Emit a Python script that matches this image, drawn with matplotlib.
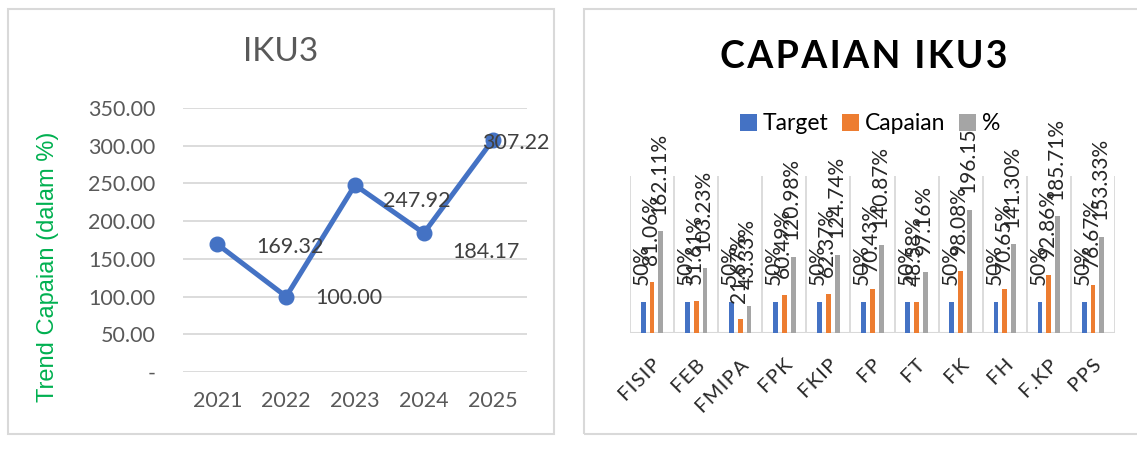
import matplotlib.pyplot as plt
import matplotlib.transforms as mtransforms
from matplotlib.patches import Rectangle
import numpy as np

plt.rcParams['font.family'] = ['Lato', 'DejaVu Sans']

# left chart data
tahun = ['2021', '2022', '2023', '2024', '2025']
trend = [169.32, 100.00, 247.92, 184.17, 307.22]

# right chart data
fakultas = ['FISIP', 'FEB', 'FMIPA', 'FPK', 'FKIP', 'FP', 'FT', 'FK', 'FH', 'F.KP', 'PPS']
target = [50, 50, 50, 50, 50, 50, 50, 50, 50, 50, 50]
capaian = [81.06, 51.61, 21.67, 60.49, 62.37, 70.43, 48.58, 98.08, 70.65, 92.86, 76.67]
persen = [162.11, 103.23, 43.33, 120.98, 124.74, 140.87, 97.16, 196.15, 141.30, 185.71, 153.33]

W, H = 1137, 468
fig = plt.figure(figsize=(W / 100, H / 100), dpi=100)

def box(x0, y0, x1, y1):
    # pixel coords (top-left origin) -> figure fraction
    return [x0 / W, 1 - y1 / H, (x1 - x0) / W, (y1 - y0) / H]

# panel borders
for (x0, y0, x1, y1) in [(8, 9, 554, 434), (584, 9, 1145, 434)]:
    fig.patches.append(Rectangle((x0 / W, 1 - y1 / H), (x1 - x0) / W, (y1 - y0) / H,
                                 transform=fig.transFigure, fill=False,
                                 edgecolor='#D9D9D9', lw=1.5))

grey_txt = '#595959'
blue = '#4472C4'
orange = '#ED7D31'
grey = '#A5A5A5'

# ---------- left: line chart ----------
ax1 = fig.add_axes(box(183, 108, 527, 372))
x = np.arange(len(tahun))
ax1.plot(x, trend, color=blue, lw=3.6, marker='o', ms=10.5, solid_joinstyle='round')
ax1.set_xlim(-0.5, len(tahun) - 0.5)
ax1.set_ylim(0, 350)
ax1.set_yticks(np.arange(0, 351, 50))
ax1.set_yticklabels(['-'] + ['%.2f' % v for v in np.arange(50, 351, 50)])
ax1.set_xticks(x)
ax1.set_xticklabels(tahun)
ax1.grid(axis='y', color='#D9D9D9', lw=1.3)
ax1.set_axisbelow(True)
for s in ax1.spines.values():
    s.set_visible(False)
ax1.tick_params(length=0, labelsize=15.5, colors=grey_txt)
ax1.tick_params(axis='x', pad=14)
ax1.tick_params(axis='y', pad=20)

# label offsets in pixels (dx to left edge, dy downward)
lbl_off = [(39, 3), (29, 1), (28, 16), (28, 19), (-10, 3)]
for i, v in enumerate(trend):
    dx, dy = lbl_off[i]
    ax1.annotate('%.2f' % v, (i, v), xytext=(dx * 0.72, -dy * 0.72), textcoords='offset points',
                 ha='left', va='center', fontsize=15.5, color='#404040')
fig.text(281 / W, 1 - 52 / H, 'IKU3', ha='center', va='center', fontsize=24, color=grey_txt)
fig.text(48 / W, 1 - 267 / H, 'Trend Capaian (dalam %)', rotation=90, ha='center',
         va='center', fontsize=17, color='#00B050', family='Liberation Sans')

# ---------- right: bar chart ----------
ax2 = fig.add_axes(box(630, 176, 1115, 333))
xb = np.arange(len(fakultas))
bw = 0.11
sp = 0.2
series = [(target, blue, 'Target'), (capaian, orange, 'Capaian'), (persen, grey, '%')]
for k, (vals, col, name) in enumerate(series):
    pos = xb + (k - 1) * sp
    ax2.bar(pos, vals, width=bw, color=col, label=name)
    for p, v in zip(pos, vals):
        t = '50%' if v == 50 else '%.2f%%' % v
        ax2.annotate(t, (p, v), xytext=(-1, 12), textcoords='offset points',
                     rotation=90, ha='center', va='bottom', fontsize=15, color='#262626')
ax2.set_xlim(-0.5, len(fakultas) - 0.5)
ax2.set_ylim(0, 250)
ax2.set_yticks([])
ax2.set_xticks(xb)
ax2.set_xticklabels(['\u200a'.join(f) for f in fakultas], rotation=45, ha='right',
                    rotation_mode='anchor', fontsize=14.5, color='#262626')
shift = mtransforms.ScaledTranslation(-4 / 100, 0, fig.dpi_scale_trans)
for lbl in ax2.get_xticklabels():
    lbl.set_transform(lbl.get_transform() + shift)
for b in np.arange(-0.5, len(fakultas), 1):
    ax2.axvline(b, color='#D9D9D9', lw=1.3, zorder=0)
for s in ax2.spines.values():
    s.set_visible(False)
ax2.axhline(0, color='#D9D9D9', lw=1.5, zorder=0)
ax2.tick_params(length=0, pad=17)
ax2.legend(loc='center', bbox_to_anchor=(870 / W, 1 - 124 / H), bbox_transform=fig.transFigure,
           ncol=3, frameon=False, fontsize=16.5, handlelength=0.75, handleheight=0.75,
           handletextpad=0.25, columnspacing=0.6)
fig.text(864 / W, 1 - 57 / H, '\u200a'.join('CAPAIAN IKU3'), ha='center', va='center',
         fontsize=27, fontweight='bold', color='black')

fig.savefig('out.png', dpi=100)
